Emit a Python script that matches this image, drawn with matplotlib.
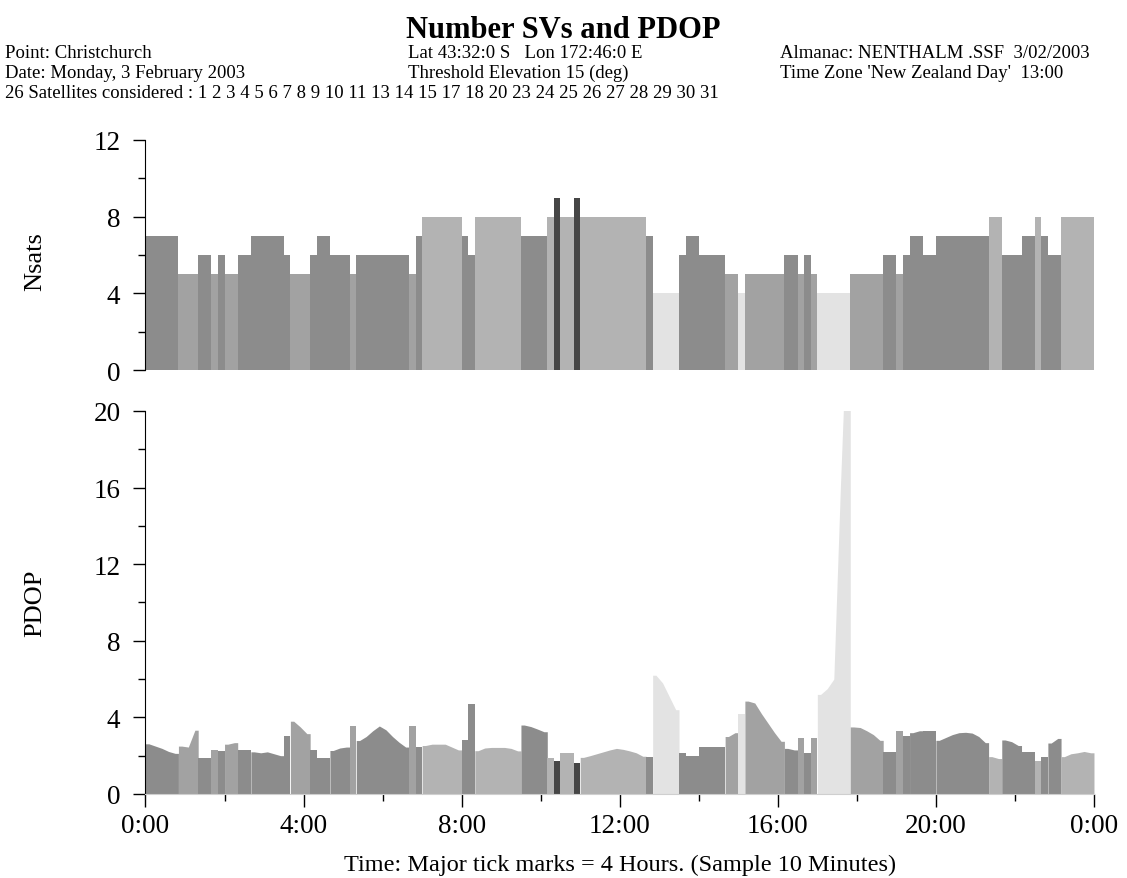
import numpy as np
import matplotlib.pyplot as plt
from matplotlib.ticker import MultipleLocator, FuncFormatter

plt.rcParams['font.family'] = ['Liberation Serif', 'DejaVu Serif']

# one value per 10 minute sample, 0:00 .. 24:00
nsats = [7, 7, 7, 7, 7, 5, 5, 5, 6, 6, 5, 6, 5, 5, 6, 6, 7, 7, 7, 7,
         7, 6, 5, 5, 5, 6, 7, 7, 6, 6, 6, 5, 6, 6, 6, 6, 6, 6, 6, 6,
         5, 7, 8, 8, 8, 8, 8, 8, 7, 6, 8, 8, 8, 8, 8, 8, 8, 7, 7, 7,
         7, 8, 9, 8, 8, 9, 8, 8, 8, 8, 8, 8, 8, 8, 8, 8, 7, 4, 4, 4,
         4, 6, 7, 7, 6, 6, 6, 6, 5, 5, 4, 5, 5, 5, 5, 5, 5, 6, 6, 5,
         6, 5, 4, 4, 4, 4, 4, 5, 5, 5, 5, 5, 6, 6, 5, 6, 7, 7, 6, 6,
         7, 7, 7, 7, 7, 7, 7, 7, 8, 8, 6, 6, 6, 7, 7, 8, 7, 6, 6, 8,
         8, 8, 8, 8]
pdop = [2.62, 2.5, 2.38, 2.22, 2.12, 2.5, 2.45, 3.33, 1.9, 1.9,
        2.31, 2.22, 2.6, 2.68, 2.31, 2.31, 2.2, 2.15, 2.2, 2.1,
        2.0, 3.04, 3.8, 3.5, 3.15, 2.31, 1.9, 1.9, 2.27, 2.4,
        2.45, 3.56, 2.79, 3.0, 3.3, 3.55, 3.35, 3.0, 2.7, 2.45,
        3.56, 2.45, 2.53, 2.6, 2.6, 2.6, 2.45, 2.3, 2.84, 4.69,
        2.26, 2.4, 2.43, 2.43, 2.43, 2.38, 2.25, 3.6, 3.52, 3.39,
        3.25, 1.86, 1.7, 2.13, 2.13, 1.6, 1.91, 2.0, 2.1, 2.2,
        2.3, 2.38, 2.33, 2.25, 2.15, 1.97, 1.91, 6.2, 5.8, 5.1,
        4.4, 2.13, 2.0, 2.0, 2.45, 2.45, 2.45, 2.45, 3.0, 3.2,
        4.17, 4.85, 4.75, 4.2, 3.7, 3.2, 2.75, 2.38, 2.3, 2.9,
        2.13, 2.9, 5.2, 5.5, 6.0, 16.0, 25.0, 3.5, 3.47, 3.3,
        3.1, 2.8, 2.2, 2.2, 3.27, 3.05, 3.2, 3.3, 3.3, 3.3,
        2.8, 2.95, 3.1, 3.2, 3.22, 3.18, 3.0, 2.68, 1.95, 1.85,
        2.82, 2.73, 2.53, 2.17, 2.17, 1.7, 1.91, 2.66, 2.9, 1.95,
        2.1, 2.15, 2.22, 2.15]
shade = {4: '#e3e3e3', 5: '#a2a2a2', 6: '#8c8c8c', 7: '#8c8c8c',
         8: '#b3b3b3', 9: '#464646'}

step = 1 / 6.0

# runs of equal satellite count
runs = []
start = 0
for i in range(1, len(nsats) + 1):
    if i == len(nsats) or nsats[i] != nsats[start]:
        runs.append((start, i))
        start = i

fig = plt.figure(figsize=(11.27, 8.79), dpi=100)
ax1 = fig.add_axes([0.1291, 0.5779, 0.8416, 0.2617])
ax2 = fig.add_axes([0.1291, 0.0956, 0.8416, 0.4357])

for a, b in runs:
    c = shade[nsats[a]]
    ax1.fill_between([a * step, b * step], nsats[a], 0, color=c, lw=0)
    xs = [a * step] + [(i + 0.5) * step for i in range(a, b)] + [b * step]
    ys = [pdop[a]] + pdop[a:b] + [pdop[b - 1]]
    ax2.fill_between(xs, ys, 0, color=c, lw=0)

for ax in (ax1, ax2):
    ax.set_xlim(0, 24)
    ax.spines['top'].set_visible(False)
    ax.spines['right'].set_visible(False)
    ax.tick_params(axis='both', which='major', length=9, width=1, labelsize=19.5, pad=9)
    ax.tick_params(axis='both', which='minor', length=5, width=1)

ax1.set_ylim(0, 12)
ax1.yaxis.set_major_locator(MultipleLocator(4))
ax1.yaxis.set_minor_locator(MultipleLocator(2))
ax1.spines['bottom'].set_visible(False)
ax1.set_xticks([])

ax2.set_ylim(0, 20)
ax2.yaxis.set_major_locator(MultipleLocator(4))
ax2.yaxis.set_minor_locator(MultipleLocator(2))
ax2.xaxis.set_major_locator(MultipleLocator(4))
ax2.xaxis.set_minor_locator(MultipleLocator(2))
ax2.xaxis.set_major_formatter(FuncFormatter(lambda v, p: "%d:00" % (int(v) % 24)))
ax2.tick_params(axis='x', which='major', pad=5)
ax2.spines['bottom'].set_color('#cfcfcf')

fig.text(620 / 1127, 1 - 865 / 879, "Time: Major tick marks = 4 Hours. (Sample 10 Minutes)",
         ha='center', va='center', fontsize=17.5)
fig.text(35 / 1127, 1 - 262 / 879, "Nsats", rotation=90, ha='center', va='center', fontsize=19)
fig.text(35 / 1127, 1 - 603 / 879, "PDOP", rotation=90, ha='center', va='center', fontsize=19)

fig.text(563 / 1127, 1 - 30 / 879, "Number SVs and PDOP", ha='center', va='center',
         fontsize=22, fontweight='bold')
hdr = dict(fontsize=13.5, va='center')
fig.text(5 / 1127, 1 - 53 / 879, "Point: Christchurch", **hdr)
fig.text(408 / 1127, 1 - 53 / 879, "Lat 43:32:0 S   Lon 172:46:0 E", **hdr)
fig.text(780 / 1127, 1 - 53 / 879, "Almanac: NENTHALM .SSF  3/02/2003", **hdr)
fig.text(5 / 1127, 1 - 73 / 879, "Date: Monday, 3 February 2003", **hdr)
fig.text(408 / 1127, 1 - 73 / 879, "Threshold Elevation 15 (deg)", **hdr)
fig.text(780 / 1127, 1 - 73 / 879, "Time Zone 'New Zealand Day'  13:00", **hdr)
fig.text(5 / 1127, 1 - 93 / 879,
         "26 Satellites considered : 1 2 3 4 5 6 7 8 9 10 11 13 14 15 17 18 20 23 24 25 26 27 28 29 30 31",
         **hdr)

fig.savefig("out.png", dpi=100)
